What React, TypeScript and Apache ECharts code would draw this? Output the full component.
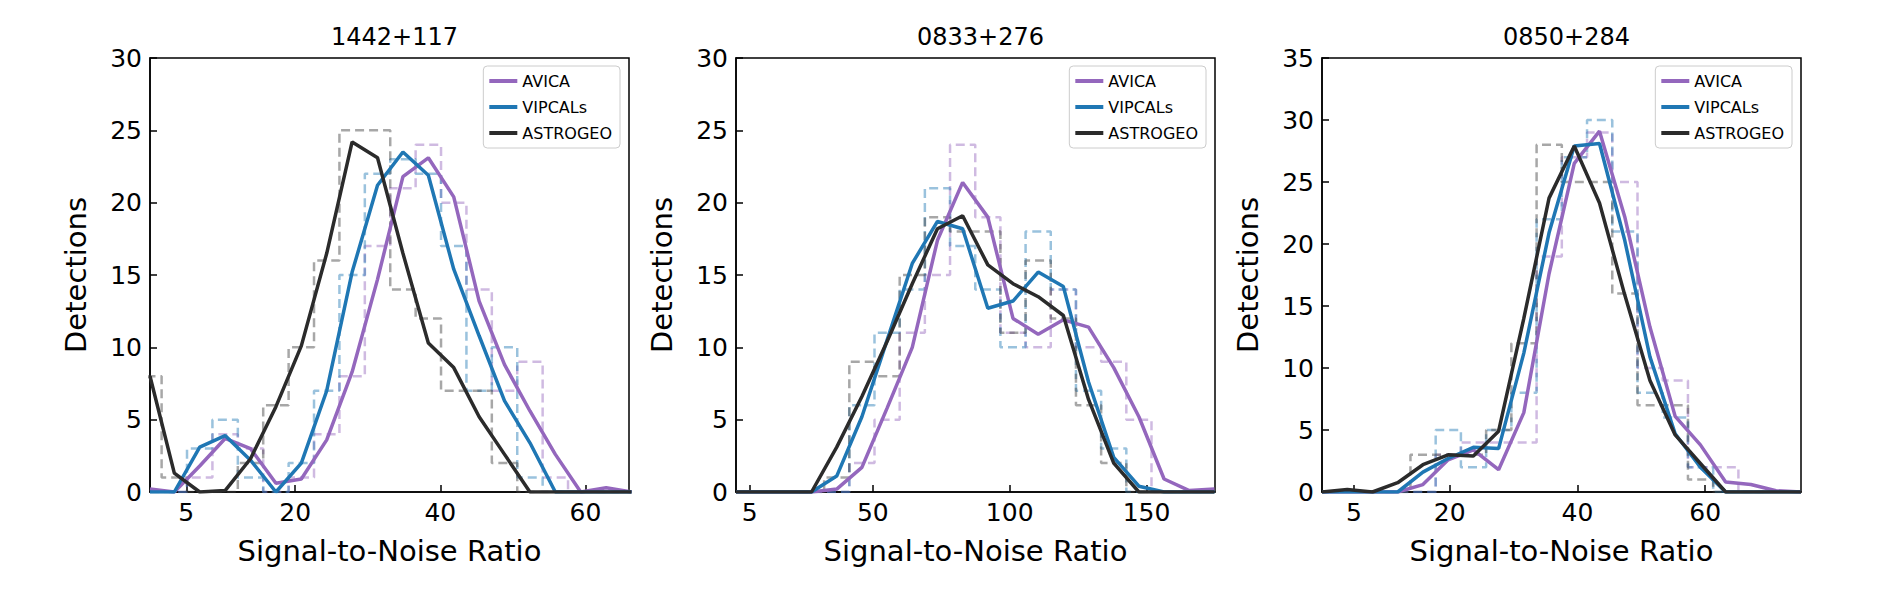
import React, { useEffect, useRef } from "react";
import * as echarts from "echarts";

const titles = ["1442+117", "0833+276", "0850+284"];
const seriesNames = ["AVICA", "VIPCALs", "ASTROGEO"];
const xMax = [66, 175, 75];
const yMax = [30, 30, 35];
const xTicks = [[5, 20, 40, 60], [5, 50, 100, 150], [5, 20, 40, 60]];

// histogram bins
const binStart = [-1.9, 23.0, 9.9];
const binWidth = [3.5, 9.2, 3.95];
const histAvica1 = [0, 0, 1, 4, 3, 0, 1, 4, 8, 17, 21, 24, 20, 14, 7, 9, 1, 0, 0];
const histVipcals1 = [0, 0, 3, 5, 1, 0, 2, 7, 15, 22, 23, 22, 17, 7, 10, 1, 0, 0, 0];
const histAstrogeo1 = [8, 1, 0, 0, 2, 6, 10, 16, 25, 25, 14, 12, 7, 7, 2, 0, 0, 0, 0];
const histAvica2 = [0, 0, 2, 5, 11, 15, 24, 19, 11, 10, 14, 10, 9, 5, 0, 0];
const histVipcals2 = [0, 0, 6, 11, 14, 21, 17, 14, 10, 18, 14, 7, 3, 0, 0, 0];
const histAstrogeo2 = [0, 1, 9, 8, 15, 19, 18, 18, 11, 16, 12, 6, 2, 0, 0, 0];
const histAvica3 = [0, 0, 3, 4, 4, 4, 19, 27, 29, 25, 10, 9, 2, 2, 0];
const histVipcals3 = [0, 0, 5, 2, 5, 8, 22, 27, 30, 21, 8, 6, 2, 0, 0];
const histAstrogeo3 = [0, 3, 3, 3, 5, 12, 28, 25, 25, 16, 7, 7, 1, 0, 0];

// smoothed curves
const lineX1 = [0, 3.35, 6.85, 10.35, 13.85, 17.35, 20.85, 24.35, 27.85, 31.35, 34.85, 38.35, 41.85, 45.35, 48.85, 52.35, 55.85, 59.35, 62.85, 66.35];
const lineAvica1 = [0.2, 0, 1.8, 3.7, 3.0, 0.6, 0.9, 3.6, 8.3, 14.7, 21.8, 23.1, 20.4, 13.2, 8.8, 5.6, 2.6, 0, 0.3, 0];
const lineVipcals1 = [0, 0, 3.1, 3.9, 2.2, 0, 2.0, 7.0, 15.2, 21.2, 23.5, 21.9, 15.4, 10.8, 6.3, 3.4, 0, 0, 0, 0];
const lineAstrogeo1 = [8, 1.3, 0, 0.1, 2.3, 5.9, 10.1, 16.5, 24.2, 23.1, 16.5, 10.3, 8.6, 5.2, 2.6, 0, 0, 0, 0, 0];
const lineX2 = [0, 9.2, 18.4, 27.6, 36.8, 46, 55.2, 64.4, 73.6, 82.8, 92, 101.2, 110.4, 119.6, 128.8, 138, 147.2, 156.4, 165.6, 174.8];
const lineAvica2 = [0, 0, 0, 0, 0.2, 1.7, 5.8, 10.0, 17.4, 21.4, 19.0, 12.0, 10.9, 11.9, 11.4, 8.6, 5.2, 0.9, 0.1, 0.2];
const lineVipcals2 = [0, 0, 0, 0, 1.1, 5.2, 10.5, 15.8, 18.7, 18.2, 12.7, 13.2, 15.2, 14.2, 7.6, 2.4, 0.4, 0, 0, 0];
const lineAstrogeo2 = [0, 0, 0, 0, 3.1, 6.6, 10.4, 14.4, 18.2, 19.1, 15.7, 14.4, 13.5, 12.2, 6.4, 2.0, 0, 0, 0, 0];
const lineX3 = [0, 3.95, 7.9, 11.85, 15.8, 19.75, 23.7, 27.65, 31.6, 35.55, 39.5, 43.45, 47.4, 51.35, 55.3, 59.25, 63.2, 67.15, 71.1, 75];
const lineAvica3 = [0, 0, 0, 0, 0.6, 2.6, 3.4, 1.8, 6.4, 17.6, 26.5, 29.1, 22.2, 13.3, 6.1, 3.8, 0.8, 0.6, 0.1, 0];
const lineVipcals3 = [0, 0, 0, 0, 1.6, 2.7, 3.6, 3.5, 11.2, 20.9, 27.9, 28.1, 20.3, 10.9, 4.7, 2.0, 0, 0, 0, 0];
const lineAstrogeo3 = [0, 0.2, 0, 0.75, 2.2, 3.0, 2.9, 4.9, 14, 23.7, 27.9, 23.3, 15.9, 9.0, 4.6, 2.3, 0, 0, 0, 0];

const hists = [
  [histAvica1, histVipcals1, histAstrogeo1],
  [histAvica2, histVipcals2, histAstrogeo2],
  [histAvica3, histVipcals3, histAstrogeo3],
];
const lineXs = [lineX1, lineX2, lineX3];
const lines = [
  [lineAvica1, lineVipcals1, lineAstrogeo1],
  [lineAvica2, lineVipcals2, lineAstrogeo2],
  [lineAvica3, lineVipcals3, lineAstrogeo3],
];

const lineColors = ["#9467bd", "#1f77b4", "#2b2b2b"];
const histColors = ["rgba(148,103,189,0.45)", "rgba(31,119,180,0.45)", "rgba(60,60,60,0.45)"];

function stepPoints(start: number, w: number, counts: number[]) {
  const pts: number[][] = [];
  counts.forEach((c, i) => {
    const a = start + i * w;
    const b = a + w;
    if (i === 0) pts.push([a, 0]);
    pts.push([a, c]);
    pts.push([b, c]);
    if (i === counts.length - 1) pts.push([b, 0]);
  });
  return pts;
}

const gridLefts = [150, 736, 1322];
const gridW = 479;
const gridTop = 58;
const gridH = 434;
const font = "DejaVu Sans";

export default function App() {
  const ref = useRef<HTMLDivElement>(null);
  useEffect(() => {
    const chart = echarts.init(ref.current!, null, { renderer: "svg" });
    const grid: any[] = [];
    const xAxis: any[] = [];
    const yAxis: any[] = [];
    const series: any[] = [];
    const legend: any[] = [];
    const title: any[] = [];
    for (let p = 0; p < 3; p++) {
      grid.push({ left: gridLefts[p], top: gridTop, width: gridW, height: gridH, show: true, borderColor: "#000", borderWidth: 1.5, backgroundColor: "#fff" });
      title.push({ text: titles[p], left: gridLefts[p] + gridW / 2, top: 20, textAlign: "center", textStyle: { fontFamily: font, fontSize: 24, fontWeight: "normal", color: "#000" } });
      xAxis.push({
        type: "value", gridIndex: p, min: 0, max: xMax[p],
        name: "Signal-to-Noise Ratio", nameLocation: "middle", nameGap: 44,
        nameTextStyle: { fontFamily: font, fontSize: 29, color: "#000" },
        axisLine: { show: true, onZero: false, lineStyle: { color: "#000", width: 1.5 } },
        axisTick: { show: true, inside: true, length: 7, customValues: xTicks[p], lineStyle: { color: "#000", width: 1.5 } },
        axisLabel: { customValues: xTicks[p], fontFamily: font, fontSize: 25, color: "#000", margin: 8 },
        splitLine: { show: false },
      });
      yAxis.push({
        type: "value", gridIndex: p, min: 0, max: yMax[p], interval: 5,
        name: "Detections", nameLocation: "middle", nameGap: 60,
        nameTextStyle: { fontFamily: font, fontSize: 29, color: "#000" },
        axisLine: { show: true, lineStyle: { color: "#000", width: 1.5 } },
        axisTick: { show: true, inside: true, length: 7, lineStyle: { color: "#000", width: 1.5 } },
        axisLabel: { fontFamily: font, fontSize: 25, color: "#000", margin: 8 },
        splitLine: { show: false },
      });
      for (let s = 0; s < 3; s++) {
        series.push({
          type: "line", name: seriesNames[s] + " hist", xAxisIndex: p, yAxisIndex: p,
          data: stepPoints(binStart[p], binWidth[p], hists[p][s]),
          showSymbol: false, symbol: "none", silent: true,
          lineStyle: { color: histColors[s], width: 2.5, type: [9, 5] },
          z: 1,
        });
      }
      for (let s = 0; s < 3; s++) {
        series.push({
          type: "line", name: seriesNames[s], xAxisIndex: p, yAxisIndex: p,
          data: lineXs[p].map((x, i) => [x, lines[p][s][i]]),
          showSymbol: false, symbol: "none",
          color: lineColors[s],
          lineStyle: { color: lineColors[s], width: 3.5 },
          z: 3,
        });
      }
      legend.push({
        data: seriesNames, orient: "vertical", right: 1880 - (gridLefts[p] + gridW) + 9, top: gridTop + 8,
        icon: "rect", itemWidth: 28, itemHeight: 4, itemGap: 10,
        textStyle: { fontFamily: font, fontSize: 16, color: "#000" },
        borderColor: "#ccc", borderWidth: 1, borderRadius: 4, padding: [7, 8, 7, 6],
        backgroundColor: "rgba(255,255,255,0.8)",
      });
    }
    chart.setOption({ animation: false, backgroundColor: "#fff", title, grid, xAxis, yAxis, series, legend });
    return () => chart.dispose();
  }, []);
  return <div ref={ref} style={{ position: "absolute", left: 0, top: 0, width: 1880, height: 599 }} />;
}
